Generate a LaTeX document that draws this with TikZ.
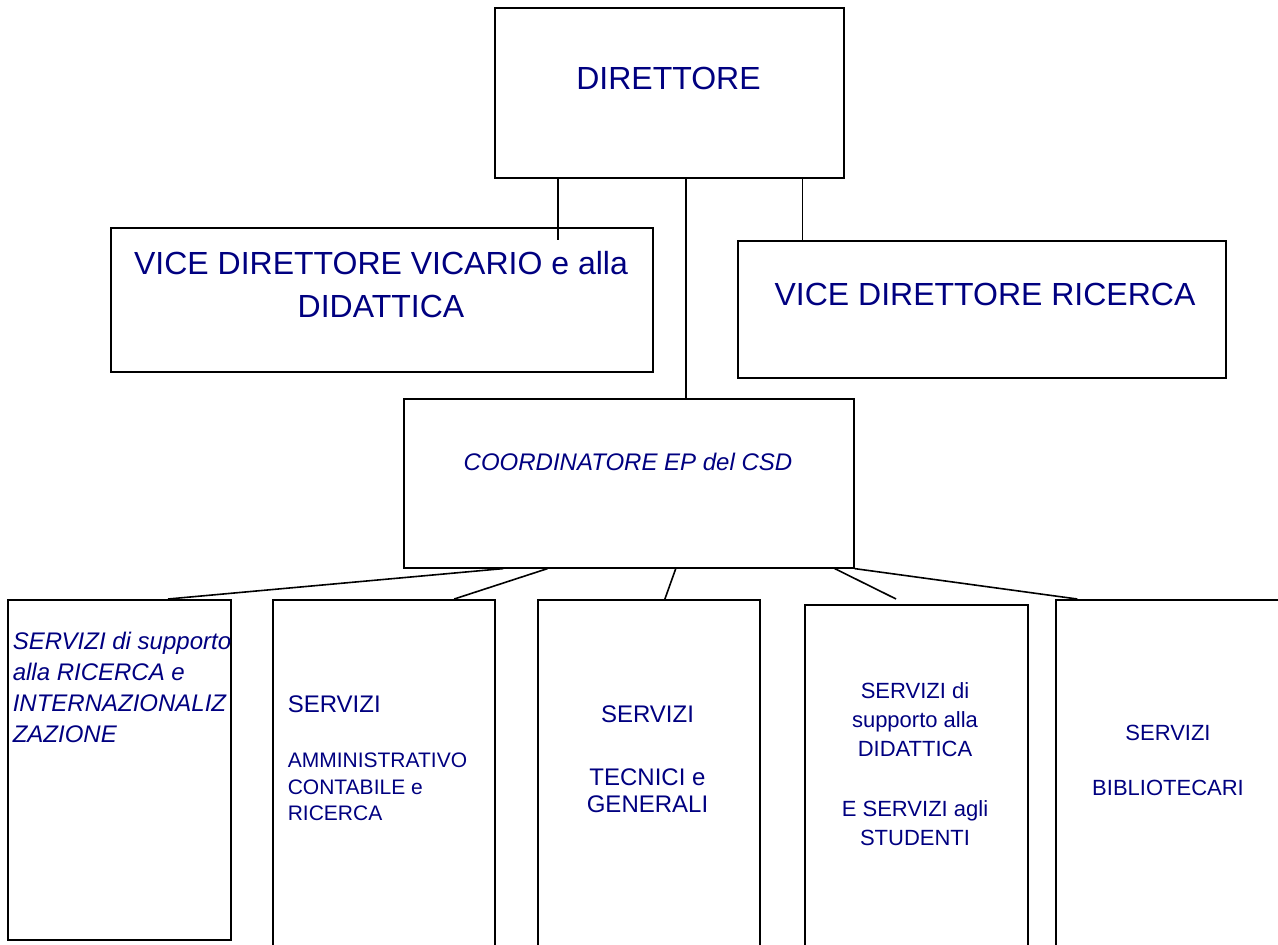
\documentclass[tikz,border=0pt]{standalone}
\usepackage{fontspec}
\setmainfont{Liberation Sans}
\usetikzlibrary{calc}
\definecolor{navy}{RGB}{0,0,128}
\begin{document}
\begin{tikzpicture}[x=1pt,y=-1pt,line width=1.6pt,
    box/.style={draw,inner sep=0pt,anchor=north west},
    txt/.style={text=navy,inner sep=0pt,anchor=north,align=center}]
\useasboundingbox (0,0) rectangle (1278,945);
\clip (0,0) rectangle (1278,945);
\node[box,minimum width=349pt,minimum height=170pt] (dir) at (494,7) {};
\node[box,minimum width=542pt,minimum height=144pt] (vicl) at (110,227) {};
\node[box,minimum width=488pt,minimum height=137pt] (vicr) at (737,240) {};
\node[box,minimum width=450pt,minimum height=169pt] (coord) at (403,398) {};
\node[box,minimum width=223pt,minimum height=340pt] (s1) at (7,599) {};
\node[box,minimum width=222pt,minimum height=360pt] (s2) at (272,599) {};
\node[box,minimum width=222pt,minimum height=360pt] (s3) at (537,599) {};
\node[box,minimum width=223pt,minimum height=360pt] (s4) at (804,604) {};
\node[box,minimum width=240pt,minimum height=360pt] (s5) at (1055,599) {};
\node[txt,font=\fontsize{32}{38}\selectfont] (tdir) at (668.5,66) {DIRETTORE};
\node[txt,font=\fontsize{32}{43}\selectfont] (tvicl) at (381,251) {VICE DIRETTORE VICARIO e alla\\DIDATTICA};
\node[txt,font=\fontsize{32}{38}\selectfont] (tvicr) at (985,282) {VICE DIRETTORE RICERCA};
\node[txt,font=\fontsize{24}{30}\itshape] (tcoord) at (628,452) {COORDINATORE EP del CSD};
\node[txt,anchor=north west,align=left,font=\fontsize{24}{31}\itshape] (ts1) at (12,631) {SERVIZI di supporto\\alla RICERCA e\\INTERNAZIONALIZ\\ZAZIONE};
\node[txt,anchor=north west,align=left,font=\fontsize{21}{26.5}\selectfont] (ts2) at (287,695) {{\fontsize{24}{26.5}\selectfont SERVIZI}\\[28.5pt]AMMINISTRATIVO\\CONTABILE e\\RICERCA};
\node[txt,font=\fontsize{24}{27}\selectfont] (ts3) at (647.5,705) {SERVIZI\\[36pt]TECNICI e\\GENERALI};
\node[txt,font=\fontsize{22}{29}\selectfont] (ts4) at (915,682) {SERVIZI di\\supporto alla\\DIDATTICA\\[31pt]E SERVIZI agli\\STUDENTI};
\node[txt,font=\fontsize{22}{29}\selectfont] (ts5) at (1168,724) {SERVIZI\\[26pt]BIBLIOTECARI};
\coordinate (dl) at ($(dir.south west)!0.183!(dir.south east)$);
\coordinate (dm) at ($(dir.south west)!0.547!(dir.south east)$);
\coordinate (dr) at ($(dir.south west)!0.88!(dir.south east)$);
\draw (dl) -- ($(dl |- vicl.north)+(0,13)$);
\draw (dm) -- (dm |- coord.north);
\draw (dr) -- (dr |- vicr.north);
\draw ($(coord.south west)!0.222!(coord.south east)$) -- ($(s1.north west)!0.717!(s1.north east)$);
\draw ($(coord.south west)!0.32!(coord.south east)$) -- ($(s2.north west)!0.815!(s2.north east)$);
\draw ($(coord.south west)!0.604!(coord.south east)$) -- ($(s3.north west)!0.572!(s3.north east)$);
\draw ($(coord.south west)!0.956!(coord.south east)$) -- ($(s4.north west)!0.41!(s4.north east)+(0,-5)$);
\draw (coord.south east) -- ($(s5.north west)!0.092!(s5.north east)$);
\end{tikzpicture}
\end{document}
